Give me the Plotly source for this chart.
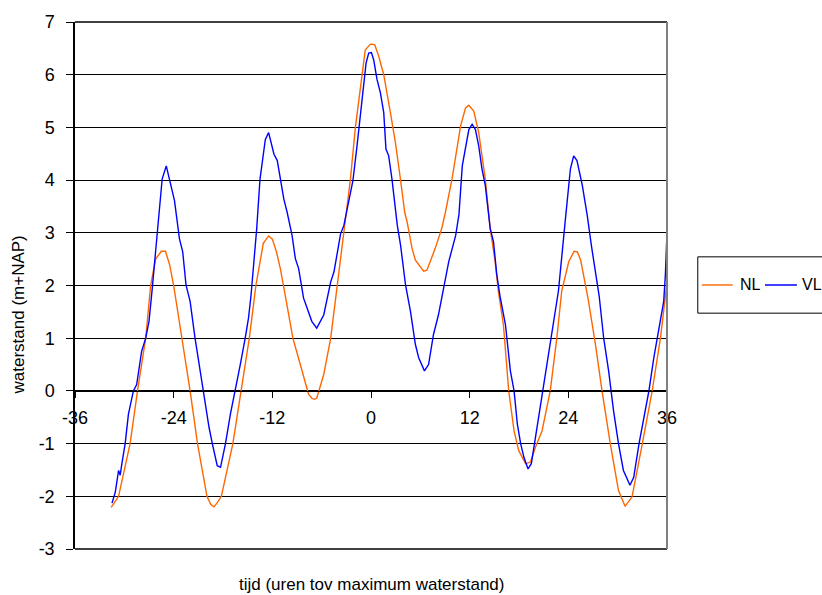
import plotly.graph_objects as go

# hours relative to maximum water level
hours_nl = [-31.6, -30.7, -29.3, -28.4, -27.4, -26.8, -26.2, -25.5, -25.0, -24.5, -24.0, -23.7, -23.0, -22.0,
            -21.1, -19.95, -19.5, -19.1, -18.7, -18.2, -16.8, -15.8, -14.8, -14.0, -13.1, -12.45, -12.0, -11.5,
            -11.0, -10.3, -9.5, -8.6, -7.6, -7.2, -6.9, -6.6, -5.75, -4.9, -4.1, -3.5, -2.9, -2.5, -1.9, -1.3,
            -0.7, -0.07, 0.45, 0.94, 1.55, 2.36, 2.97, 3.58, 4.1, 4.4, 5.0, 5.4, 6.4, 6.8, 7.8, 8.6, 9.05, 9.85,
            10.9, 11.5, 11.9, 12.5, 13.1, 13.9, 14.5, 15.1, 15.5, 16.1, 16.75, 17.4, 17.96, 18.8, 19.4, 20.0,
            20.8, 21.8, 22.6, 23.2, 24.05, 24.7, 25.1, 25.5, 26.1, 26.4, 27.3, 28.1, 29.1, 30.1, 30.9, 31.75,
            33.0, 34.2, 35.2, 35.9, 36.0]
level_nl = [-2.21, -2.0, -1.0, 0.0, 1.0, 2.0, 2.5, 2.65, 2.65, 2.4, 2.0, 1.7, 1.0, 0.0,
            -1.0, -2.0, -2.15, -2.2, -2.12, -2.0, -1.0, 0.0, 1.0, 2.0, 2.8, 2.94, 2.88, 2.64,
            2.3, 1.7, 1.0, 0.5, -0.06, -0.14, -0.16, -0.14, 0.31, 1.0, 2.0, 2.7, 3.5, 4.02, 5.0, 5.72,
            6.47, 6.58, 6.57, 6.35, 6.0, 5.28, 4.71, 4.02, 3.39, 3.2, 2.7, 2.48, 2.27, 2.29, 2.7, 3.08, 3.39, 4.02,
            5.03, 5.37, 5.42, 5.31, 4.9, 4.02, 3.08, 2.45, 1.88, 1.26, 0.0, -0.76, -1.13, -1.38, -1.35, -1.07,
            -0.76, 0.0, 1.0, 1.9, 2.45, 2.65, 2.64, 2.48, 2.01, 1.75, 0.88, 0.0, -1.0, -1.89, -2.19, -2.01,
            -1.0, 0.0, 1.0, 1.85, 2.05]

hours_vl = [-31.5, -31.1, -30.7, -30.5, -30.3, -29.9, -29.5, -28.9, -28.5, -27.9, -27.4, -27.0, -26.6, -26.0,
            -25.4, -24.9, -24.4, -23.9, -23.3, -22.9, -22.5, -22.0, -21.4, -20.8, -20.35, -19.7, -19.3, -18.7,
            -18.3, -17.7, -17.1, -16.5, -15.9, -15.3, -14.9, -14.6, -13.9, -13.5, -12.85, -12.45, -11.8, -11.4,
            -10.6, -10.2, -9.6, -9.2, -8.8, -8.2, -7.8, -7.2, -6.6, -5.75, -4.9, -4.5, -3.7, -3.3, -2.9, -2.2,
            -1.7, -1.1, -0.6, -0.28, 0.05, 0.33, 0.73, 1.14, 1.55, 1.82, 2.15, 2.55, 2.97, 3.2, 3.6, 4.2, 4.8,
            5.4, 5.8, 6.5, 7.0, 7.6, 8.2, 8.85, 9.45, 10.3, 10.7, 11.1, 11.5, 11.9, 12.3, 12.7, 13.1, 13.5,
            13.9, 14.5, 14.9, 15.3, 15.7, 16.35, 16.95, 17.4, 17.8, 18.2, 18.6, 19.1, 19.5, 20.0, 20.5, 20.9,
            21.6, 22.35, 22.8, 23.65, 24.25, 24.65, 25.05, 25.7, 26.3, 26.8, 27.3, 27.75, 28.3, 28.9, 29.5,
            30.1, 30.7, 31.5, 31.95, 32.6, 33.2, 33.8, 34.4, 35.0, 35.6, 35.8, 36.0]
level_vl = [-2.13, -1.92, -1.51, -1.6, -1.38, -1.0, -0.44, 0.0, 0.12, 0.75, 1.0, 1.32, 1.95, 2.95,
            4.02, 4.27, 3.93, 3.61, 2.89, 2.64, 2.01, 1.7, 1.0, 0.38, 0.0, -0.69, -1.0, -1.42,
            -1.45, -1.0, -0.44, 0.0, 0.5, 1.0, 1.38, 1.8, 3.08, 4.02, 4.77, 4.9, 4.49, 4.37,
            3.64, 3.39, 2.95, 2.51, 2.32, 1.76, 1.57, 1.32, 1.19, 1.44, 2.07, 2.26, 2.98, 3.14, 3.45, 3.99,
            4.65, 5.53, 6.22, 6.41, 6.42, 6.28, 5.91, 5.66, 5.28, 4.59, 4.46, 4.02, 3.45, 3.14, 2.76, 2.01, 1.51,
            0.88, 0.63, 0.38, 0.5, 1.07, 1.44, 1.98, 2.45, 2.95, 3.35, 4.27, 4.65, 4.96, 5.06, 4.96, 4.65, 4.21,
            3.9, 3.08, 2.83, 2.2, 1.79, 1.26, 0.38, 0.0, -0.63, -1.0, -1.26, -1.48, -1.38, -0.88, -0.38, 0.0,
            0.72, 1.38, 1.9, 3.27, 4.21, 4.46, 4.37, 3.9, 3.33, 2.76, 2.26, 1.8, 1.0, 0.38, -0.38,
            -1.0, -1.51, -1.79, -1.64, -1.0, -0.5, 0.0, 0.63, 1.13, 1.7, 2.2, 3.0]

x_ticks = [-36, -24, -12, 0, 12, 24, 36]
y_ticks = [-3, -2, -1, 0, 1, 2, 3, 4, 5, 6, 7]
series_names = ["NL", "VL"]
series_colors = ["#FF6600", "#0000FF"]

FONT = "Liberation Sans, Arial, sans-serif"

fig = go.Figure()
fig.add_trace(go.Scatter(x=hours_nl, y=level_nl, mode="lines", name=series_names[0],
                         line=dict(color=series_colors[0], width=1.4), showlegend=False))
fig.add_trace(go.Scatter(x=hours_vl, y=level_vl, mode="lines", name=series_names[1],
                         line=dict(color=series_colors[1], width=1.4), showlegend=False))

fig.update_layout(
    width=822, height=595,
    margin=dict(l=75, r=155, t=19, b=46),
    paper_bgcolor="white", plot_bgcolor="white",
    font=dict(family=FONT, size=17, color="black"),
    xaxis=dict(range=[-36, 36], tickvals=x_ticks, ticktext=[str(v) for v in x_ticks],
               anchor="free", position=0.3, showline=True, linecolor="black", linewidth=1,
               ticks="outside", ticklen=6, tickcolor="black", showgrid=False, zeroline=False,
               tickfont=dict(size=18), ticklabelstandoff=4),
    yaxis=dict(range=[-3, 7], tickvals=y_ticks, ticktext=[str(v) for v in y_ticks],
               showgrid=True, gridcolor="black", gridwidth=1,
               showline=True, linecolor="black", linewidth=1.5, ticks="outside", ticklen=7,
               tickcolor="black", zeroline=False, tickfont=dict(size=18), ticklabelstandoff=8),
    showlegend=False,
)

# plot-area frame
fig.add_shape(type="line", xref="paper", yref="paper", x0=0, x1=1, y0=1, y1=1,
              line=dict(color="black", width=1.5))
fig.add_shape(type="line", xref="paper", yref="paper", x0=0, x1=1, y0=0, y1=0,
              line=dict(color="black", width=1.5))
fig.add_shape(type="line", xref="paper", yref="paper", x0=1, x1=1, y0=0, y1=1,
              line=dict(color="#808080", width=2))

# legend (drawn manually; box runs off the page like the reference)
fig.add_shape(type="rect", xref="paper", yref="paper", x0=1.052, x1=1.40, y0=0.4475, y1=0.5544,
              line=dict(color="black", width=1), fillcolor="white", layer="above")
leg_y = 0.501
fig.add_shape(type="line", xref="paper", yref="paper", x0=1.059, x1=1.111, y0=leg_y, y1=leg_y,
              line=dict(color=series_colors[0], width=1.4))
fig.add_shape(type="line", xref="paper", yref="paper", x0=1.1655, x1=1.2195, y0=leg_y, y1=leg_y,
              line=dict(color=series_colors[1], width=1.4))
fig.add_annotation(xref="paper", yref="paper", x=1.1199, y=leg_y, text=series_names[0],
                   showarrow=False, xanchor="left", yanchor="middle", font=dict(size=16))
fig.add_annotation(xref="paper", yref="paper", x=1.2255, y=leg_y, text=series_names[1],
                   showarrow=False, xanchor="left", yanchor="middle", font=dict(size=16))

# axis titles
fig.add_annotation(xref="paper", yref="paper", x=0.5, y=-0.068, text="tijd (uren tov maximum waterstand)",
                   showarrow=False, xanchor="center", yanchor="middle", font=dict(size=17))
fig.add_annotation(xref="paper", yref="paper", x=-0.0963, y=0.445, text="waterstand (m+NAP)",
                   showarrow=False, xanchor="center", yanchor="middle", textangle=-90, font=dict(size=17))

fig.write_html("out.html", config={"displayModeBar": False},
               post_script="document.body.style.margin='0';document.body.style.overflow='hidden';")
